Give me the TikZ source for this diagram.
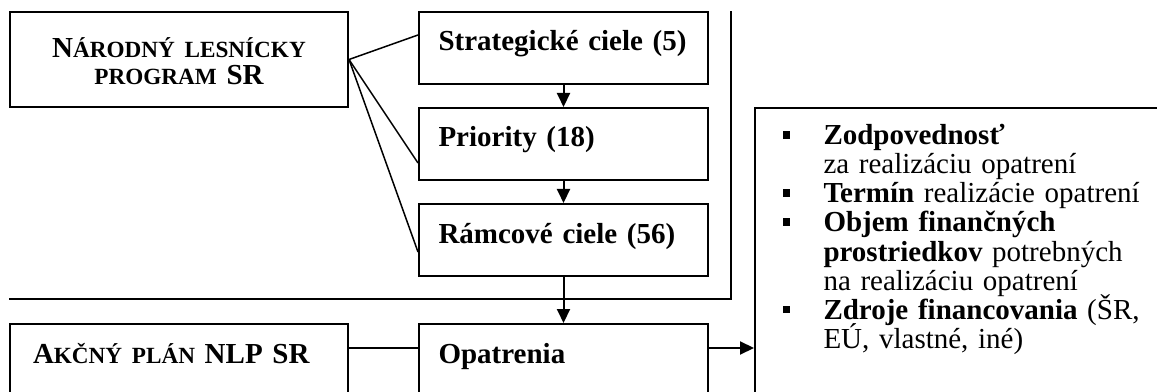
\documentclass[tikz,border=0pt]{standalone}
\usepackage{fontspec}
\setmainfont{Liberation Serif}
\usepackage{tikz}
\usetikzlibrary{arrows.meta,calc}
\newcommand{\smcap}[1]{{\fontsize{9.28pt}{9.28pt}\selectfont #1}}
\newcommand{\bul}{\makebox[16.4pt][l]{\rule[2.4pt]{3pt}{3pt}}}
\newcommand{\cont}{\hspace*{16.4pt}}

\tikzset{
box/.style={draw, line width=0.8pt, anchor=north west, inner ysep=0pt, align=left,
  text height=15.6pt, text depth=13.2pt, font=\fontsize{11.6pt}{11.6pt}\selectfont\bfseries},
midbox/.style={box, inner xsep=7.8pt, text width=100pt},
leftbox/.style={box, inner xsep=9.2pt, text width=116.8pt},
infobox/.style={draw, line width=0.8pt, anchor=north west, inner sep=0pt,
  minimum width=174pt, minimum height=125pt},
listtext/.style={anchor=base west, inner sep=0pt, text width=152pt, align=left,
  font={\fontsize{11.6pt}{11.6pt}\selectfont\lineskiplimit -6pt\relax}},
link/.style={line width=0.6pt},
rule/.style={line width=0.8pt},
flow/.style={line width=0.8pt, -{Triangle[length=5.6pt,width=5.2pt]}}
}

\begin{document}
\begin{tikzpicture}[x=0.4pt,y=-0.4pt]
\useasboundingbox (0,0) rectangle (1157,392);
\clip (0,0) rectangle (1157,392);

\node[leftbox, align=center, text height=18.4pt, text depth=19.6pt,
  font=\fontsize{11.6pt}{10.8pt}\selectfont\bfseries] (nlp) at (9,11)
  {N\smcap{ÁRODNÝ LESNÍCKY}\\\smcap{PROGRAM} SR};
\node[midbox] (strat) at (418,11) {Strategické ciele (5)};
\node[midbox] (prio) at (418,107) {Priority (18)};
\node[midbox] (ramc) at (418,203) {Rámcové ciele (56)};
\node[midbox] (opat) at (418,323) {Opatrenia};
\node[leftbox] (akcny) at (9,323) {A\smcap{KČNÝ PLÁN} NLP SR};
\node[infobox] (info) at (754,107) {};
\node[listtext] (items) at ($(info.north west)+(28,38)$)
  {\bul\textbf{Zodpovednosť}\\
   \cont za realizáciu opatrení\\
   \bul\textbf{Termín} realizácie opatrení\\
   \bul\textbf{Objem finančných}\\
   \cont\textbf{prostriedkov} potrebných\\
   \cont na realizáciu opatrení\\
   \bul\textbf{Zdroje financovania} (ŠR,\\
   \cont EÚ, vlastné, iné)};

\coordinate (sepL) at (9,299);
\coordinate (sepC) at (731,299);
\coordinate (sepT) at (731,11);
\draw[rule] (sepL) -- (sepC) -- (sepT);

\draw[link] (nlp.east) -- ($(strat.north west)+(0,24)$);
\draw[link] (nlp.east) -- ($(prio.north west)+(0,56)$);
\draw[link] (nlp.east) -- ($(ramc.north west)+(0,49)$);

\draw[flow] (strat) -- (prio);
\draw[flow] (prio) -- (ramc);
\draw[flow] (ramc) -- (opat);
\draw[rule] ($(akcny.north east)+(0,25)$) coordinate (aout) -- (aout -| opat.west);
\draw[flow] ($(opat.north east)+(0,25)$) coordinate (oout) -- (oout -| info.west);
\end{tikzpicture}
\end{document}
